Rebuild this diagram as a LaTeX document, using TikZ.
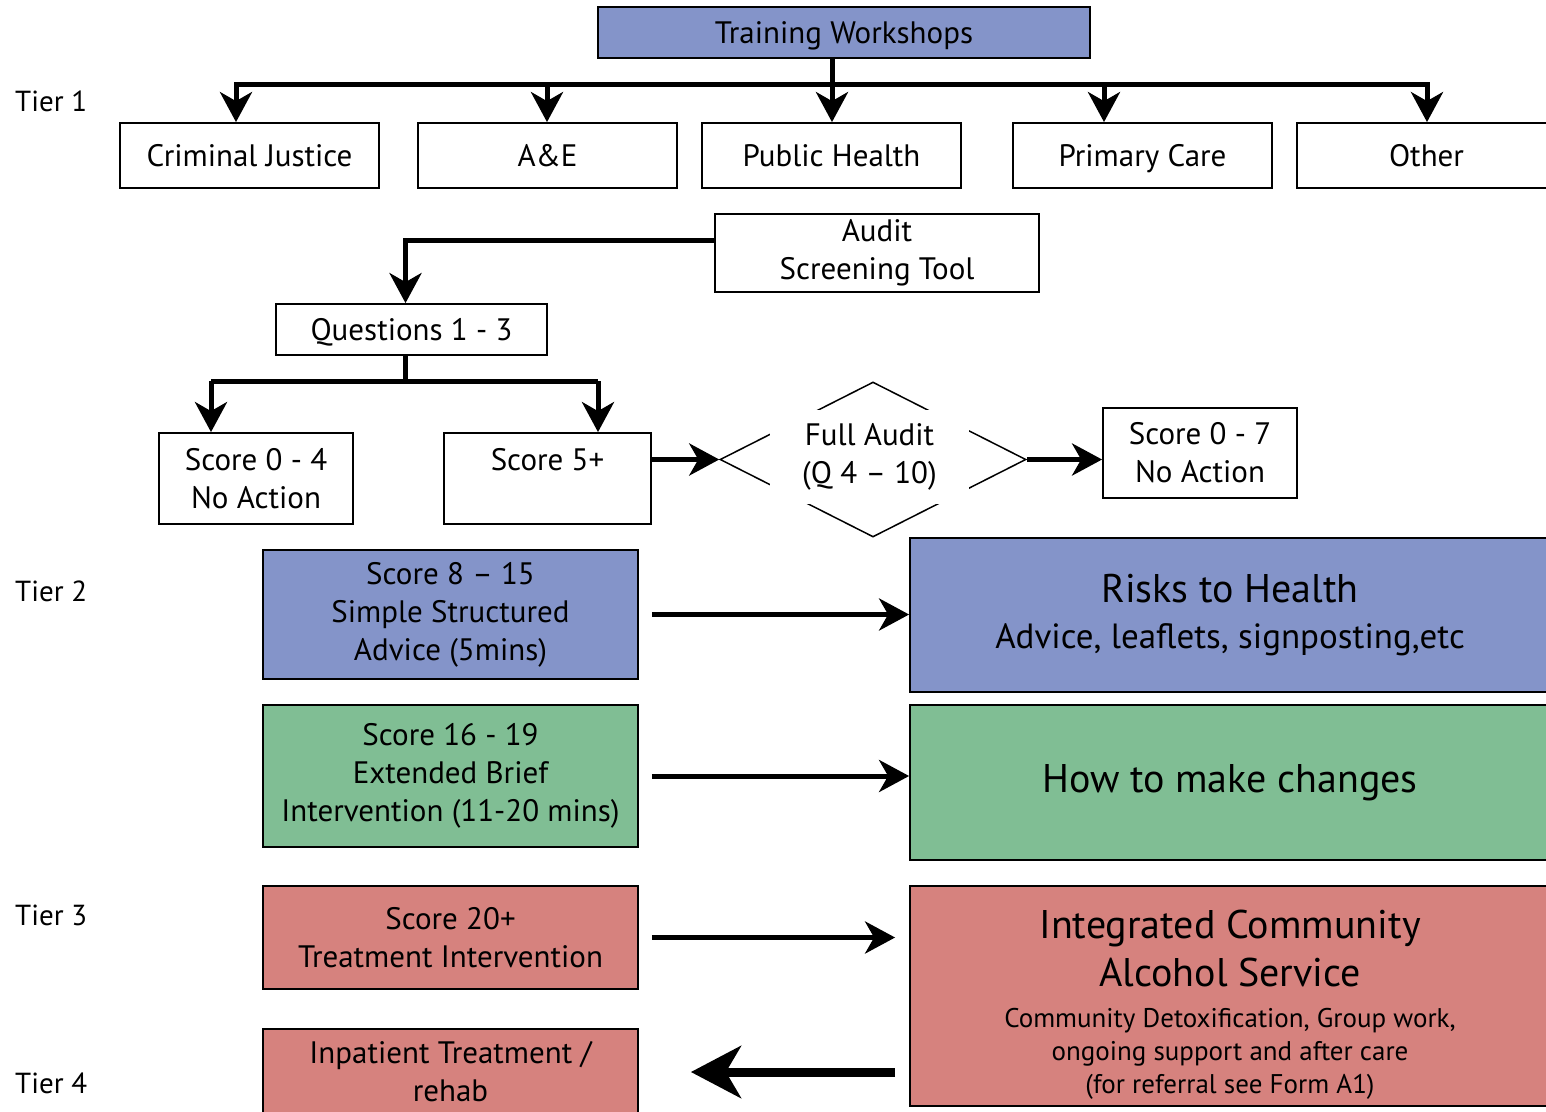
\documentclass[tikz,border=0pt]{standalone}
\usepackage{fontspec}
\setmainfont{PT Sans}
\usetikzlibrary{arrows.meta,shapes.geometric}

\definecolor{tierblue}{RGB}{132,148,201}
\definecolor{tiergreen}{RGB}{128,190,148}
\definecolor{tierred}{RGB}{214,130,126}

\newcommand{\normaltext}{\fontsize{31}{38}\selectfont}
\newcommand{\bigtext}{\fontsize{40}{46}\selectfont}
\newcommand{\midtext}{\fontsize{35}{46}\selectfont}
\newcommand{\smalltext}{\fontsize{27}{33}\selectfont}

\begin{document}
\begin{tikzpicture}[x=1pt,y=-1pt]
    \tikzstyle{box}=[draw=black,line width=1.8pt,inner sep=0pt,align=center,font=\normaltext]
    \tikzstyle{tier box}=[box,minimum width=259pt,minimum height=65pt,text height=22pt,text depth=0pt]
    \tikzstyle{score box}=[box,minimum width=375pt]
    \tikzstyle{result box}=[box,minimum width=640pt]
    \tikzstyle{tier}=[anchor=west,inner sep=0pt,font=\fontsize{29}{38}\selectfont]
    \tikzstyle{link}=[line width=5pt,-{Stealth[length=30pt,width=32pt,inset=9pt]}]
    \tikzstyle{bar}=[line width=5pt]
    \tikzstyle{back link}=[line width=9pt,-{Stealth[length=50pt,width=52pt,inset=15pt]}]

    \useasboundingbox (0,0) rectangle (1546,1111);

    % Tier labels
    \foreach \name / \y in {1/101,2/591,3/915,4/1083}
        \node[tier] (tier-\name) at (15,\y) {Tier \name};

    % Draw the workshops and the tier 1 services
    \node[box,fill=tierblue,minimum width=492pt,minimum height=51pt,text height=22pt,text depth=0pt] (tw) at (844,32.5) {Training Workshops};
    \node[tier box] (cj) at (249.5,155.5) {Criminal Justice};
    \node[tier box] (ae) at (547.5,155.5) {A\&E};
    \node[tier box] (ph) at (831.5,155.5) {Public Health};
    \node[tier box] (pc) at (1142.5,155.5) {Primary Care};
    \node[tier box] (ot) at (1426.5,155.5) {Other};

    \foreach \name / \x in {cj/236,ae/547,ph/832,pc/1104,ot/1427}
        \coordinate (drop-\name) at (\x,84);
    \draw[bar,line cap=rect] (drop-cj) -- (drop-ot);
    \draw[bar] (tw.south -| drop-ph) -- (drop-ph);
    \foreach \name in {cj,ae,ph,pc,ot}
        \draw[link] (drop-\name) -- (drop-\name |- \name.north);

    % Screening
    \node[box,minimum width=324pt,minimum height=78pt] (audit) at (877,253) {Audit\\Screening Tool};
    \node[box,minimum width=271pt,minimum height=51pt,text height=22pt,text depth=0pt] (q13) at (411.5,329.5) {Questions 1 - 3};
    \draw[link] ([yshift=13pt]audit.west) -| ([xshift=-6pt]q13.north);

    \node[box,minimum width=194pt,minimum height=91pt] (s04) at (256,478.5) {Score 0 - 4\\No Action};
    \node[box,minimum width=207pt,minimum height=91pt] (s5) at (547.5,478.5) {Score 5+\\\mbox{}};

    \coordinate (q-left) at (211,381);
    \coordinate (q-right) at (598,381);
    \draw[bar] ([xshift=-6pt]q13.south) -- ([xshift=-6pt]q13.south |- q-left);
    \draw[bar] (q-left) -- (q-right);
    \draw[link] (q-left) -- (q-left |- s04.north);
    \draw[link] (q-right) -- (q-right |- s5.north);

    % Full audit
    \node[draw=black,line width=1.5pt,diamond,inner sep=0pt,minimum width=306pt,minimum height=155pt] (dia) at (873,459.5) {};
    \node[fill=white,inner sep=0pt,minimum width=199pt,minimum height=94pt,align=center,font=\normaltext] (full) at (869.5,457) {Full Audit\\(Q 4 -- 10)};
    \node[box,minimum width=194pt,minimum height=90pt] (s07) at (1200,453) {Score 0 - 7\\No Action};
    \draw[link] (s5.east |- dia.west) -- (dia.west);
    \draw[link] (dia.east) -- (dia.east -| s07.west);

    % Tier 2
    \node[score box,fill=tierblue,minimum height=129pt] (s815) at (450.5,614.5) {Score 8 -- 15\\Simple Structured\\Advice (5mins)};
    \node[result box,fill=tierblue,minimum height=154pt,font=\bigtext] (risk) at (1230,615) {Risks to Health\\\midtext Advice, leaflets, signposting,etc};
    \draw[link] ([xshift=13pt]s815.east) -- (s815.east -| risk.west);

    \node[score box,fill=tiergreen,minimum height=142pt] (s1619) at (450.5,776) {Score 16 - 19\\Extended Brief\\Intervention (11-20 mins)};
    \node[result box,fill=tiergreen,minimum height=155pt,font=\bigtext] (change) at (1230,782.5) {How to make changes};
    \draw[link] ([xshift=13pt]s1619.east) -- (s1619.east -| change.west);

    % Tier 3 and 4
    \node[score box,fill=tierred,minimum height=103pt] (s20) at (450.5,937.5) {Score 20+\\Treatment Intervention};
    \node[result box,fill=tierred,minimum height=220pt,font=\fontsize{40}{48}\selectfont] (icas) at (1230,996) {\rule{0pt}{46pt}Integrated Community\\Alcohol Service\\[-7pt]
        \smalltext Community Detoxification, Group work,\\[-15pt]\smalltext ongoing support and after care\\[-15pt]\smalltext (for referral see Form A1)};
    \draw[link] ([xshift=13pt]s20.east) -- ([xshift=-14pt]s20.east -| icas.west);

    \node[score box,fill=tierred,minimum height=86pt] (inpat) at (450.5,1072) {Inpatient Treatment /\\rehab};
    \draw[back link] ([xshift=-14pt]inpat.east -| icas.west) -- ([xshift=52pt]inpat.east);
\end{tikzpicture}
\end{document}
